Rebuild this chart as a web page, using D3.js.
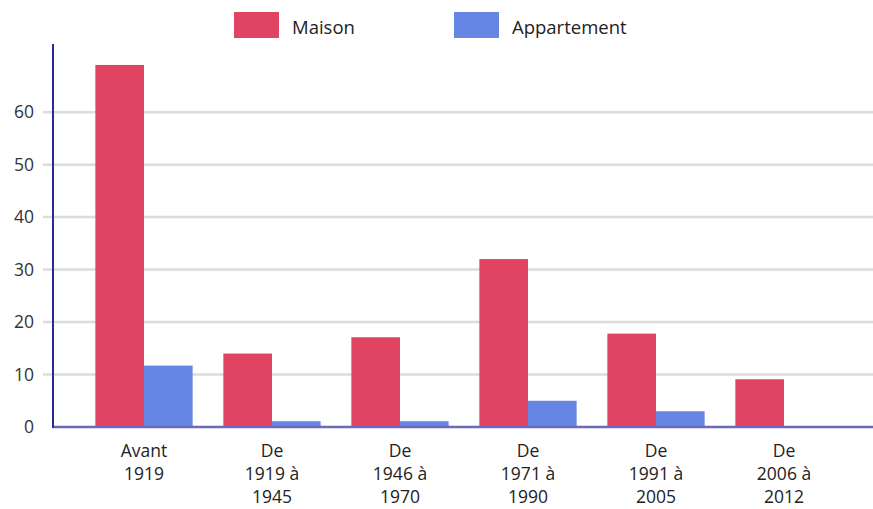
<!DOCTYPE html>
<html><head><meta charset="utf-8">
<script src="https://cdn.jsdelivr.net/npm/d3@7"></script>
<style>body{margin:0;background:#fff;} text{font-family:"Open Sans",sans-serif;}</style>
</head><body><svg id="c" width="873" height="509"></svg>
<script>
const categories = [["Avant","1919"],["De","1919 à","1945"],["De","1946 à","1970"],["De","1971 à","1990"],["De","1991 à","2005"],["De","2006 à","2012"]];
const seriesNames = ["Maison","Appartement"];
const maison = [69, 14, 17.1, 32, 17.8, 9.1];
const appartement = [11.7, 1.1, 1.1, 5, 3, 0];
const yTicks = [0,10,20,30,40,50,60];
const colors = ["#e04462","#6587e3"];

const svg = d3.select("#c");
const x0 = d3.scaleBand().domain(d3.range(categories.length)).range([80,848]).paddingInner(0.24).paddingOuter(0.12);
const x1 = d3.scaleBand().domain(seriesNames).range([0,x0.bandwidth()]);
const y = d3.scaleLinear().domain([0,72.8]).range([427,45]);

// grid
svg.append("g").selectAll("line").data(yTicks.slice(1)).join("line")
  .attr("x1",43).attr("x2",873).attr("y1",d=>y(d)).attr("y2",d=>y(d))
  .attr("stroke","#dcdcdc").attr("stroke-width",2.5);

// y tick labels
svg.append("g").selectAll("text").data(yTicks).join("text")
  .attr("x",34).attr("y",d=>y(d)).attr("dy","0.35em").attr("text-anchor","end")
  .attr("font-size",17.5).attr("fill","#333").text(d=>d);

// bars
const data = [maison, appartement];
const g = svg.append("g");
seriesNames.forEach((s,si)=>{
  g.selectAll("rect.s"+si).data(data[si]).join("rect").attr("class","s"+si)
    .attr("x",(d,i)=>x0(i)+x1(s)).attr("width",x1.bandwidth())
    .attr("y",d=>y(d)).attr("height",d=>y(0)-y(d))
    .attr("fill",colors[si]);
});

// axes lines
svg.append("line").attr("x1",53).attr("x2",873).attr("y1",y(0)).attr("y2",y(0)).attr("stroke","#6a6ab8").attr("stroke-width",2.5);
svg.append("line").attr("x1",53).attr("x2",53).attr("y1",y(0)+1).attr("y2",44).attr("stroke","#2a2a96").attr("stroke-width",2);

// x labels
const xl = svg.append("g").selectAll("text").data(categories).join("text")
  .attr("text-anchor","middle").attr("font-size",17.5).attr("fill","#222")
  .attr("transform",(d,i)=>`translate(${x0(i)+x0.bandwidth()/2},0)`);
xl.selectAll("tspan").data(d=>d).join("tspan").attr("x",0).attr("y",(d,j)=>457+j*23).text(d=>d);

// legend
const legX = [234,454];
const lg = svg.append("g").selectAll("g").data(seriesNames).join("g").attr("transform",(d,i)=>`translate(${legX[i]},12)`);
lg.append("rect").attr("width",45).attr("height",26).attr("fill",(d,i)=>colors[i]);
lg.append("text").attr("x",58).attr("y",22).attr("font-size",18.5).attr("fill","#222").text(d=>d);
</script></body></html>
